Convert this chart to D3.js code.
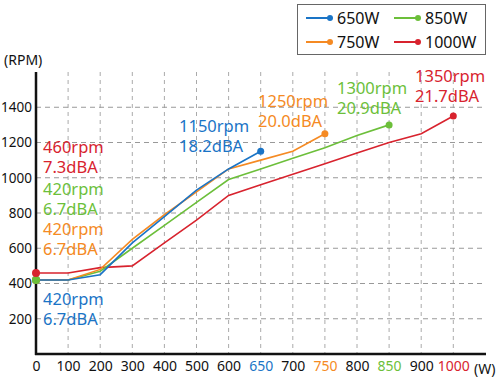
<!DOCTYPE html>
<html>
<head>
<meta charset="utf-8">
<script src="https://cdn.jsdelivr.net/npm/d3@7"></script>
<style>
  body { margin: 0; background: #fff; }
  svg { display: block; font-family: "Noto Sans", "DejaVu Sans", sans-serif; }
</style>
</head>
<body>
<div id="chart"></div>
<script>
// categories on the x axis (W)
const watts = ['0','100','200','300','400','500','600','650','700','750','800','850','900','1000'];
const yTicks = [200, 400, 600, 800, 1000, 1200, 1400];

// fan speed (RPM) per model
const rpm650  = [420, 420, 450, 630, 780, 930, 1050, 1150];
const rpm750  = [420, 420, 480, 650, 790, 920, 1050, 1100, 1150, 1250];
const rpm850  = [420, 420, 470, 600, 730, 860, 990, 1050, 1110, 1170, 1240, 1300];
const rpm1000 = [460, 460, 490, 500, 630, 760, 900, 960, 1020, 1080, 1140, 1200, 1250, 1350];

const seriesNames = ['650W', '750W', '850W', '1000W'];
const colors = {'650W': '#1a74c6', '750W': '#f58a23', '850W': '#6cbf3a', '1000W': '#d8232e'};

// start / end notes
const startNotes = [
    {name: '1000W', lines: ['460rpm', '7.3dBA']},
    {name: '850W', lines: ['420rpm', '6.7dBA']},
    {name: '750W', lines: ['420rpm', '6.7dBA']},
    {name: '650W', lines: ['420rpm', '6.7dBA']}
];
const endNotes = [
    {name: '650W', lines: ['1150rpm', '18.2dBA']},
    {name: '750W', lines: ['1250rpm', '20.0dBA']},
    {name: '850W', lines: ['1300rpm', '20.9dBA']},
    {name: '1000W', lines: ['1350rpm', '21.7dBA']}
];

const series = [
    {name: '650W', values: rpm650},
    {name: '750W', values: rpm750},
    {name: '850W', values: rpm850},
    {name: '1000W', values: rpm1000}
];

const width = 500, height = 378;
const svg = d3.select('#chart').append('svg')
    .attr('width', width)
    .attr('height', height);

const x = d3.scalePoint().domain(watts).range([36, 453.3]);
const y = d3.scaleLinear().domain([0, 1600]).range([354, 72]);
const xEnd = 486;

// grid
const grid = svg.append('g').attr('class', 'grid');
grid.selectAll('.vgrid')
    .data(watts.slice(1))
    .enter().append('line')
    .attr('x1', d => x(d)).attr('x2', d => x(d))
    .attr('y1', y(1600)).attr('y2', y(0))
    .attr('stroke', '#aaa')
    .attr('stroke-width', 1)
    .attr('stroke-dasharray', '4,4');
grid.selectAll('.hgrid')
    .data(yTicks)
    .enter().append('line')
    .attr('x1', x('0')).attr('x2', xEnd)
    .attr('y1', d => y(d)).attr('y2', d => y(d))
    .attr('stroke', '#999')
    .attr('stroke-width', 1)
    .attr('stroke-dasharray', '5,4');

// axes
const yAxis = svg.append('g')
    .attr('transform', `translate(${x('0')},0)`)
    .call(d3.axisLeft(y).tickValues(yTicks).tickFormat(d3.format('d')).tickSize(0).tickPadding(4));
yAxis.select('.domain').remove();
yAxis.selectAll('text')
    .attr('font-size', 13.5)
    .attr('font-family', '"Noto Sans", sans-serif')
    .attr('fill', '#111');

const xAxis = svg.append('g')
    .attr('transform', `translate(0,${y(0)})`)
    .call(d3.axisBottom(x).tickSize(0).tickPadding(7));
xAxis.select('.domain').remove();
xAxis.selectAll('text')
    .attr('font-size', 14)
    .attr('font-family', '"Noto Sans", sans-serif')
    .attr('fill', d => {
        const s = seriesNames.find(n => n === d + 'W');
        return s ? colors[s] : '#111';
    });

svg.append('line')
    .attr('x1', x('0')).attr('x2', x('0'))
    .attr('y1', y(1600)).attr('y2', y(0) + 1)
    .attr('stroke', '#111').attr('stroke-width', 2.5);
svg.append('line')
    .attr('x1', x('0') - 1).attr('x2', xEnd)
    .attr('y1', y(0)).attr('y2', y(0))
    .attr('stroke', '#111').attr('stroke-width', 2.5);

svg.append('text')
    .attr('x', 4).attr('y', 65)
    .attr('font-size', 14).attr('fill', '#111')
    .text('(RPM)');
svg.append('text')
    .attr('x', 474).attr('y', y(0) + 20)
    .attr('font-size', 14).attr('fill', '#111')
    .text('(W)');

// lines
const line = d3.line()
    .x((d, i) => x(watts[i]))
    .y(d => y(d));

const plot = svg.append('g').attr('class', 'plot');
plot.selectAll('.series')
    .data(series.slice().reverse())
    .enter().append('path')
    .attr('d', d => line(d.values))
    .attr('fill', 'none')
    .attr('stroke', d => colors[d.name])
    .attr('stroke-width', 1.6);

// end dots
plot.selectAll('.dot-end')
    .data(series)
    .enter().append('circle')
    .attr('cx', d => x(watts[d.values.length - 1]))
    .attr('cy', d => y(d.values[d.values.length - 1]))
    .attr('r', 3.5)
    .attr('fill', d => colors[d.name]);
plot.selectAll('.dot-start')
    .data(series)
    .enter().append('circle')
    .attr('cx', x('0'))
    .attr('cy', d => y(d.values[0]))
    .attr('r', 4)
    .attr('fill', d => colors[d.name]);

// notes
const notes = svg.append('g').attr('font-size', 16.5);
const startY = [153, 195, 235, 305];
startNotes.forEach((n, i) => {
    n.lines.forEach((t, j) => {
        notes.append('text')
            .attr('x', 43)
            .attr('y', startY[i] + j * 20)
            .attr('fill', colors[n.name])
            .text(t);
    });
});
const endPos = {
    '650W': [179, 132],
    '750W': [258, 107],
    '850W': [337, 94],
    '1000W': [415, 82]
};
endNotes.forEach(n => {
    n.lines.forEach((t, j) => {
        notes.append('text')
            .attr('x', endPos[n.name][0])
            .attr('y', endPos[n.name][1] + j * 20)
            .attr('fill', colors[n.name])
            .text(t);
    });
});

// legend
const legend = svg.append('g');
legend.append('rect')
    .attr('x', 297.5).attr('y', 4.5)
    .attr('width', 188).attr('height', 50)
    .attr('fill', '#fff')
    .attr('stroke', '#666')
    .attr('stroke-width', 1);
const legendPos = {
    '650W': [306, 18], '850W': [394, 18],
    '750W': [306, 42], '1000W': [394, 42]
};
seriesNames.forEach(name => {
    const [lx, ly] = legendPos[name];
    legend.append('line')
        .attr('x1', lx).attr('x2', lx + 24)
        .attr('y1', ly).attr('y2', ly)
        .attr('stroke', colors[name]).attr('stroke-width', 2);
    legend.append('circle')
        .attr('cx', lx + 24).attr('cy', ly).attr('r', 3)
        .attr('fill', colors[name]);
    legend.append('text')
        .attr('x', lx + 31).attr('y', ly + 6)
        .attr('font-size', 16).attr('fill', '#111')
        .text(name);
});
</script>
</body>
</html>
